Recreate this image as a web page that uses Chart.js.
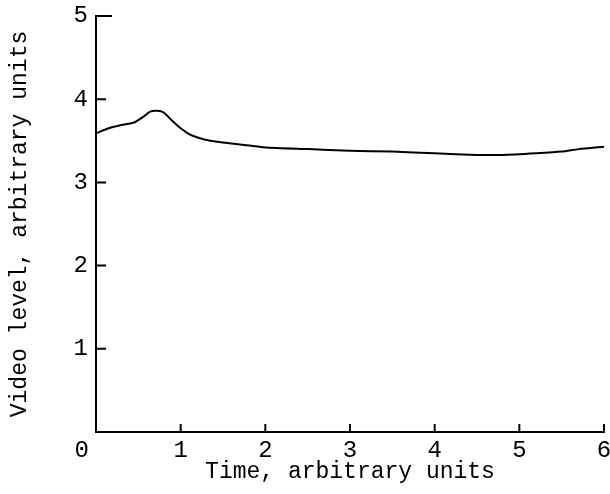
<!DOCTYPE html>
<html>
<head>
<meta charset="utf-8">
<script src="https://cdn.jsdelivr.net/npm/chart.js@4"></script>
<style>
  html, body { margin: 0; padding: 0; background: #fff; }
  canvas { display: block; }
</style>
</head>
<body>
<canvas id="videoChart" width="610" height="494"></canvas>
<script>
// values
const timeVals = [0, 0.15, 0.3, 0.45, 0.56, 0.64, 0.72, 0.8, 0.9, 1.0, 1.1, 1.2, 1.35, 1.5, 1.75, 2.0, 2.5, 3.0, 3.5, 4.0, 4.5, 4.8, 5.2, 5.5, 5.7, 6.0];
const videoVals = [3.59, 3.65, 3.69, 3.72, 3.79, 3.85, 3.86, 3.84, 3.74, 3.65, 3.58, 3.54, 3.50, 3.48, 3.45, 3.42, 3.40, 3.38, 3.37, 3.35, 3.33, 3.33, 3.35, 3.37, 3.40, 3.43];
const xTicks = [0, 1, 2, 3, 4, 5, 6];
const yTicks = [0, 1, 2, 3, 4, 5];

const FONT = "'Liberation Mono', 'DejaVu Sans Mono', monospace";

// inward tick marks, like the original drawing
const inwardTicks = {
  id: 'inwardTicks',
  afterDraw(chart) {
    const ctx = chart.ctx;
    const xs = chart.scales.x, ys = chart.scales.y;
    const left = chart.chartArea.left, bottom = chart.chartArea.bottom;
    ctx.save();
    ctx.strokeStyle = '#000';
    ctx.lineWidth = 2;
    ctx.beginPath();
    yTicks.forEach(v => {
      if (v === 0) return;
      const py = ys.getPixelForValue(v);
      ctx.moveTo(left, py);
      ctx.lineTo(left + (v === 5 ? 16 : 10), py);
    });
    xTicks.forEach(v => {
      if (v === 0) return;
      const px = xs.getPixelForValue(v);
      ctx.moveTo(px, bottom);
      ctx.lineTo(px, bottom - 8);
    });
    ctx.stroke();
    ctx.restore();
  }
};

new Chart(document.getElementById('videoChart'), {
  type: 'line',
  data: {
    datasets: [{
      data: timeVals.map((t, i) => ({ x: t, y: videoVals[i] })),
      borderColor: '#000',
      borderWidth: 2,
      pointRadius: 0,
      tension: 0.2,
      fill: false
    }]
  },
  options: {
    responsive: false,
    animation: false,
    devicePixelRatio: 1,
    layout: { padding: { top: 16, right: 6, left: 0, bottom: 0 } },
    plugins: { legend: { display: false }, tooltip: { enabled: false } },
    scales: {
      x: {
        type: 'linear',
        min: 0, max: 6,
        afterBuildTicks: s => { s.ticks = xTicks.map(v => ({ value: v })); },
        afterFit: s => { s.height = 62; s.paddingLeft = 0; s.paddingRight = 0; },
        grid: { drawOnChartArea: false, drawTicks: false },
        border: { color: '#000', width: 2 },
        ticks: {
          color: '#000',
          font: { family: FONT, size: 24 },
          padding: 4,
          maxRotation: 0,
          callback: v => (v === 0 ? '0  ' : String(v))
        },
        title: {
          display: true,
          text: 'Time, arbitrary units',
          color: '#000',
          font: { family: FONT, size: 23 },
          padding: { top: 0, bottom: 8 }
        }
      },
      y: {
        type: 'linear',
        min: 0, max: 5,
        afterBuildTicks: s => { s.ticks = yTicks.map(v => ({ value: v })); },
        afterFit: s => { s.width = 96; s.paddingTop = 0; s.paddingBottom = 0; },
        grid: { drawOnChartArea: false, drawTicks: false },
        border: { color: '#000', width: 2 },
        ticks: {
          color: '#000',
          font: { family: FONT, size: 24 },
          padding: 8,
          callback: v => (v === 0 ? '' : String(v))
        },
        title: {
          display: true,
          text: 'Video level, arbitrary units',
          color: '#000',
          font: { family: FONT, size: 23 },
          padding: { top: 6, bottom: 0 }
        }
      }
    }
  },
  plugins: [inwardTicks]
});
</script>
</body>
</html>
